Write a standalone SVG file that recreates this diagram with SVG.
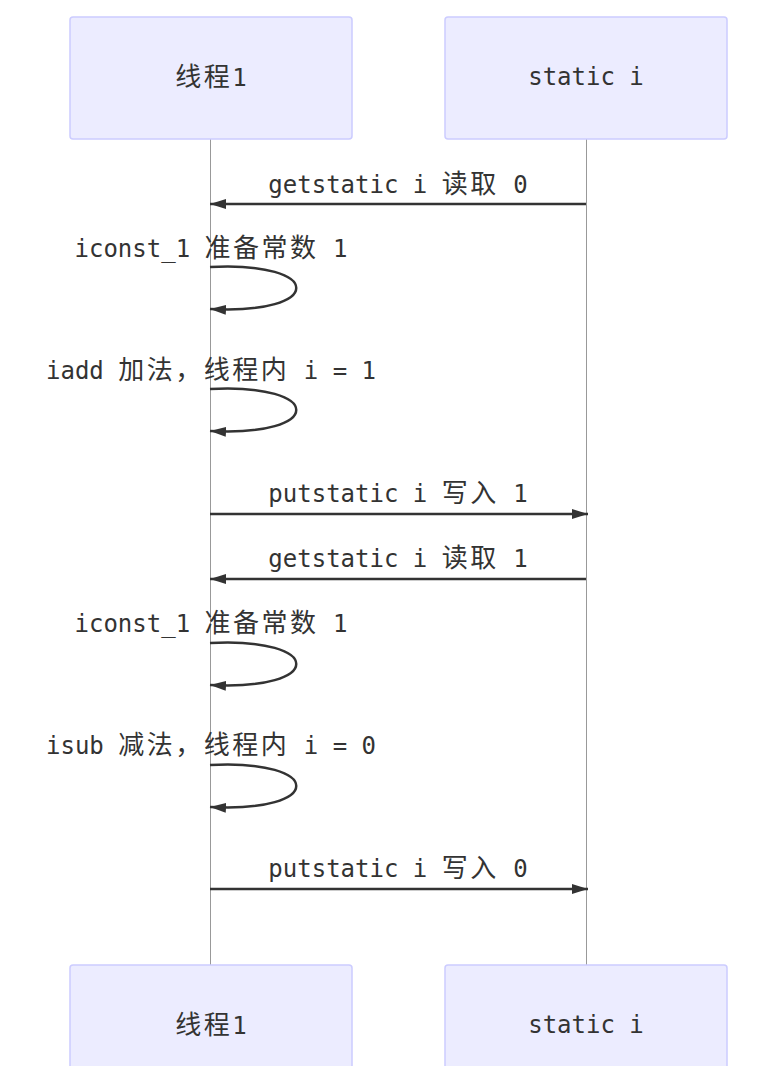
<svg xmlns="http://www.w3.org/2000/svg" width="766" height="1085" viewBox="0 0 766 1085">
<style>
.actor{fill:#ECECFF;stroke:#CCCCFF;stroke-width:1.5}
.lbl{font-family:"DejaVu Sans Mono","Liberation Mono","Noto Sans CJK SC",monospace;font-size:24px;fill:#333;text-anchor:middle}
.cjk{font-family:"Noto Sans CJK SC","Noto Sans",sans-serif;font-size:26px;letter-spacing:2.5px}
.life{stroke:#999;stroke-width:1}
.msg{stroke:#333;stroke-width:2.5;fill:none}
</style>
<defs>
<marker id="arrow" viewBox="0 0 16 10" refX="16" refY="5" markerWidth="16" markerHeight="10" markerUnits="userSpaceOnUse" orient="auto">
<path d="M0,0 L16,5 L0,10 z" fill="#333"/>
</marker>
<clipPath id="cut"><rect x="0" y="0" width="766" height="1066"/></clipPath>
</defs>
<g id="lifelines">
<line class="life" x1="210.5" y1="139" x2="210.5" y2="965"/>
<line class="life" x1="586.5" y1="139" x2="586.5" y2="965"/>
</g>
<g id="actor-t1-top">
<rect class="actor" x="70" y="17" width="282" height="122" rx="3"/>
<text class="lbl" x="211" y="86"><tspan class="cjk">线程</tspan>1</text>
</g>
<g id="actor-si-top">
<rect class="actor" x="445" y="17" width="282" height="122" rx="3"/>
<text class="lbl" x="586" y="85">static i</text>
</g>
<g id="actor-t1-bottom" clip-path="url(#cut)">
<rect class="actor" x="70" y="965" width="282" height="122" rx="3"/>
<text class="lbl" x="211" y="1034"><tspan class="cjk">线程</tspan>1</text>
</g>
<g id="actor-si-bottom" clip-path="url(#cut)">
<rect class="actor" x="445" y="965" width="282" height="122" rx="3"/>
<text class="lbl" x="586" y="1033">static i</text>
</g>
<g id="connectors">
<line class="msg" x1="586" y1="204" x2="210" y2="204" marker-end="url(#arrow)"/>
<path class="msg" d="M210,267 C325,261 325,315 210,309" marker-end="url(#arrow)"/>
<path class="msg" d="M210,389 C325,383 325,437 210,431" marker-end="url(#arrow)"/>
<line class="msg" x1="210" y1="514" x2="588" y2="514" marker-end="url(#arrow)"/>
<line class="msg" x1="586" y1="579" x2="210" y2="579" marker-end="url(#arrow)"/>
<path class="msg" d="M210,643 C325,637 325,691 210,685" marker-end="url(#arrow)"/>
<path class="msg" d="M210,765 C325,759 325,813 210,807" marker-end="url(#arrow)"/>
<line class="msg" x1="210" y1="889" x2="588" y2="889" marker-end="url(#arrow)"/>
</g>
<g id="labels">
<text class="lbl" x="398" y="193">getstatic i <tspan class="cjk">读取</tspan> 0</text>
<text class="lbl" x="211" y="257">iconst_1 <tspan class="cjk">准备常数</tspan> 1</text>
<text class="lbl" x="211" y="379">iadd <tspan class="cjk">加法，线程内</tspan> i = 1</text>
<text class="lbl" x="398" y="502">putstatic i <tspan class="cjk">写入</tspan> 1</text>
<text class="lbl" x="398" y="567">getstatic i <tspan class="cjk">读取</tspan> 1</text>
<text class="lbl" x="211" y="632">iconst_1 <tspan class="cjk">准备常数</tspan> 1</text>
<text class="lbl" x="211" y="754">isub <tspan class="cjk">减法，线程内</tspan> i = 0</text>
<text class="lbl" x="398" y="877">putstatic i <tspan class="cjk">写入</tspan> 0</text>
</g>
</svg>
